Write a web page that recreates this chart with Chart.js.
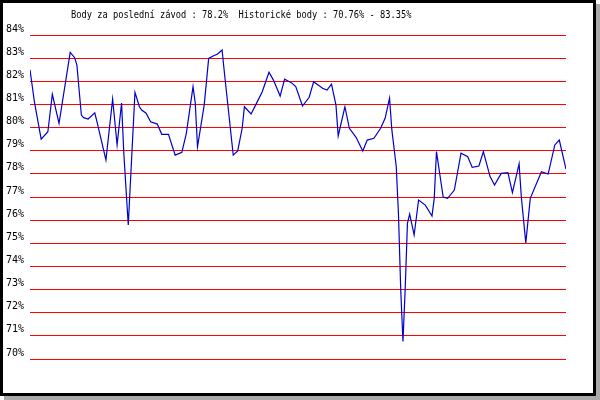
<!DOCTYPE html>
<html>
<head>
<meta charset="utf-8">
<script src="https://cdn.jsdelivr.net/npm/chart.js@4"></script>
<style>
  html, body { margin: 0; padding: 0; background: #fff; }
  #frame {
    position: absolute; left: 0; top: 0;
    width: 590px; height: 390px;
    border: 3px solid #000;
    box-shadow: 4px 4px 0 #aaa;
    background: #fff;
  }
  canvas { display: block; }
</style>
</head>
<body>
<div id="frame"><canvas id="chart" width="590" height="390"></canvas></div>
<script>
const titleText = 'Body za poslední závod : 78.2%  Historické body : 70.76% - 83.35%';

// race number (x) and score in % (y)
const races = [0, 2, 5, 8, 10, 13, 18, 20, 21, 23, 24, 26, 29, 30, 34, 37, 39, 41, 42, 44,
  47, 49, 50, 52, 54, 57, 59, 62, 65, 68, 70, 73, 74, 75, 78, 80, 82, 84, 86, 87,
  91, 93, 95, 96, 99, 101, 104, 107, 109, 112, 114, 117, 119, 122, 125, 127, 131, 133, 135, 137,
  138, 141, 143, 146, 149, 151, 154, 157, 159, 161, 162, 164, 165, 166, 167, 168, 169, 170, 172, 174,
  177, 180, 181, 182, 185, 187, 190, 193, 196, 198, 201, 203, 206, 208, 211, 214, 216, 219, 220, 222,
  224, 229, 232, 235, 237, 240];
const scores = [82.5, 81.1, 79.5, 79.82, 81.44, 80.18, 83.25, 83.02, 82.7, 80.54, 80.43, 80.37, 80.64, 80.25, 78.6, 81.23, 79.25, 81.06, 78.9, 75.79,
  81.52, 80.9, 80.76, 80.62, 80.25, 80.15, 79.71, 79.71, 78.81, 78.93, 79.75, 81.77, 81.05, 79.17, 80.97, 82.99, 83.09, 83.18, 83.35, 82.41,
  78.81, 78.99, 79.97, 80.9, 80.59, 80.97, 81.55, 82.39, 82.05, 81.36, 82.09, 81.94, 81.77, 80.93, 81.31, 81.98, 81.7, 81.62, 81.88, 80.97,
  79.64, 80.9, 79.97, 79.58, 78.99, 79.46, 79.54, 79.97, 80.4, 81.27, 79.92, 78.31, 76.22, 72.98, 70.76, 73.05, 75.86, 76.26, 75.36, 76.87,
  76.65, 76.18, 76.94, 78.96, 77.0, 76.94, 77.3, 78.89, 78.74, 78.28, 78.34, 78.96, 77.88, 77.52, 78.02, 78.05, 77.19, 78.43, 77.0, 75.02,
  76.94, 78.09, 77.99, 79.25, 79.46, 78.2];

const yTicks = [70, 71, 72, 73, 74, 75, 76, 77, 78, 79, 80, 81, 82, 83, 84];

const monoFont = '"DejaVu Sans Mono", "Liberation Mono", monospace';

// title drawn slightly narrowed to fit the bitmap-like font of the original
const titlePlugin = {
  id: 'titleText',
  afterDraw(chart) {
    const ctx = chart.ctx;
    ctx.save();
    ctx.font = '10px ' + monoFont;
    ctx.fillStyle = '#000';
    ctx.textBaseline = 'alphabetic';
    ctx.textAlign = 'left';
    ctx.translate(68, 14.5);
    ctx.scale(0.87, 1);
    ctx.fillText(titleText, 0, 0);
    ctx.restore();
  }
};

const ctx = document.getElementById('chart').getContext('2d');
new Chart(ctx, {
  type: 'line',
  data: {
    datasets: [{
      data: races.map((r, i) => ({ x: r, y: scores[i] })),
      borderColor: '#0000cc',
      borderWidth: 1.2,
      pointRadius: 0,
      tension: 0,
      fill: false
    }]
  },
  options: {
    responsive: false,
    animation: false,
    layout: { padding: { top: 32, right: 27, bottom: 34, left: 0 } },
    plugins: {
      legend: { display: false },
      title: { display: false },
      tooltip: { enabled: false }
    },
    scales: {
      x: {
        type: 'linear',
        min: 0,
        max: 240,
        display: false
      },
      y: {
        min: yTicks[0],
        max: yTicks[yTicks.length - 1],
        afterBuildTicks: (scale) => { scale.ticks = yTicks.map(v => ({ value: v })); },
        afterFit: (scale) => { scale.width = 27; },
        border: { display: false },
        grid: { color: '#ff0000', lineWidth: 1, drawTicks: false },
        ticks: {
          callback: (v) => v + '%',
          color: '#000',
          font: { family: monoFont, size: 10 },
          padding: 6,
          labelOffset: -6
        }
      }
    }
  },
  plugins: [titlePlugin]
});
</script>
</body>
</html>
